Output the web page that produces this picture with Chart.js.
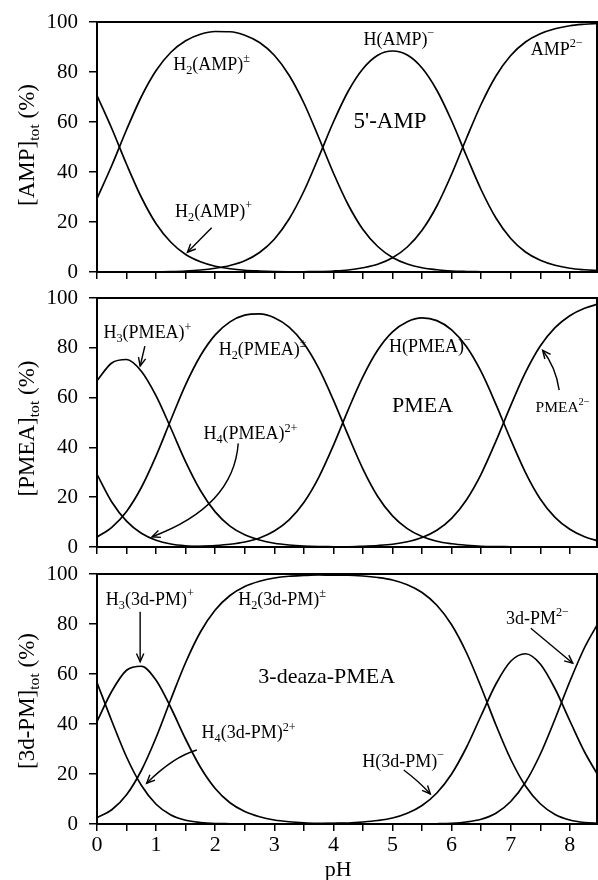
<!DOCTYPE html>
<html>
<head>
<meta charset="utf-8">
<title>Species distribution vs pH</title>
<script src="https://cdn.jsdelivr.net/npm/chart.js@4/dist/chart.umd.min.js"></script>
<style>
  html, body { margin: 0; padding: 0; background: #fff; }
  #wrap { position: relative; width: 598px; height: 880px; overflow: hidden; }
  #wrap canvas { position: absolute; left: 0; }
</style>
</head>
<body>
<div id="wrap">
  <canvas id="amp" width="598" height="290" style="top:0"></canvas>
  <canvas id="pmea" width="598" height="285" style="top:280px"></canvas>
  <canvas id="dpm" width="598" height="320" style="top:560px"></canvas>
</div>
<script>
// pH grid shared by all panels
const pH = [0, 0.25, 0.5, 0.75, 1, 1.25, 1.5, 1.75, 2, 2.25, 2.5, 2.75, 3, 3.25, 3.5, 3.75, 4, 4.25,
  4.5, 4.75, 5, 5.25, 5.5, 5.75, 6, 6.25, 6.5, 6.75, 7, 7.25, 7.5, 7.75, 8, 8.25, 8.5];

// Ticks
const phTicks = [0, 0.5, 1, 1.5, 2, 2.5, 3, 3.5, 4, 4.5, 5, 5.5, 6, 6.5, 7, 7.5, 8];
const phLabels = [0, 1, 2, 3, 4, 5, 6, 7, 8];
const pctTicks = [0, 10, 20, 30, 40, 50, 60, 70, 80, 90, 100];
const pctLabels = [0, 20, 40, 60, 80, 100];

// 5'-AMP (%)
const ampH3 = [70.6, 57.4, 43.1, 29.9, 19.3, 11.9, 7.0, 4.1, 2.3, 1.3, 0.7, 0.4, 0.2, 0.1, 0.05,
  0, 0, 0, 0, 0, 0, 0, 0, 0, 0, 0, 0, 0, 0, 0, 0, 0, 0, 0, 0];
const ampH2 = [29.4, 42.6, 56.9, 70.1, 80.6, 87.9, 92.5, 95.1, 96.2, 96.1, 94.7, 91.8, 86.7, 78.7,
  67.6, 53.9, 39.6, 26.9, 17.0, 10.2, 5.8, 3.2, 1.7, 0.9, 0.4, 0.2, 0.1, 0, 0, 0, 0, 0, 0, 0, 0];
const ampH = [0, 0, 0, 0.1, 0.1, 0.2, 0.4, 0.8, 1.5, 2.6, 4.5, 7.8, 13.1, 21.2, 32.3, 45.9, 60.0,
  72.3, 81.3, 86.7, 88.4, 86.8, 81.6, 72.7, 60.5, 46.5, 32.9, 21.6, 13.4, 8.0, 4.7, 2.7, 1.5, 0.9, 0.5];
const ampL = [0, 0, 0, 0, 0, 0, 0, 0, 0, 0, 0, 0, 0, 0, 0.1, 0.2, 0.4, 0.8, 1.7, 3.1, 5.7, 10.0,
  16.7, 26.4, 39.1, 53.4, 67.1, 78.4, 86.6, 92.0, 95.3, 97.3, 98.5, 99.1, 99.5];

// PMEA (%)
const pmeaH4 = [29.2, 18.1, 10.4, 5.5, 2.7, 1.2, 0.5, 0.2, 0.1, 0, 0, 0, 0, 0, 0, 0, 0, 0, 0, 0,
  0, 0, 0, 0, 0, 0, 0, 0, 0, 0, 0, 0, 0, 0, 0];
const pmeaH3 = [66.8, 73.9, 75.3, 70.6, 60.7, 47.7, 34.2, 22.7, 14.1, 8.4, 4.9, 2.8, 1.5, 0.8, 0.4,
  0.2, 0.1, 0, 0, 0, 0, 0, 0, 0, 0, 0, 0, 0, 0, 0, 0, 0, 0, 0, 0];
const pmeaH2 = [4.0, 7.9, 14.3, 23.9, 36.6, 51.1, 65.2, 76.8, 85.2, 90.4, 93.1, 93.6, 92.1, 88.3,
  81.7, 71.8, 59.0, 44.8, 31.3, 20.3, 12.5, 7.4, 4.2, 2.3, 1.3, 0.7, 0.3, 0.15, 0.1, 0, 0, 0, 0, 0, 0];
const pmeaH = [0, 0, 0, 0, 0, 0, 0.1, 0.3, 0.6, 1.1, 2.0, 3.6, 6.4, 10.9, 17.9, 27.9, 40.8, 55.1,
  68.4, 79.1, 86.4, 90.5, 92.0, 90.9, 87.2, 80.5, 70.4, 57.3, 43.1, 29.9, 19.3, 11.9, 7.1, 4.1, 2.3];
const pmeaL = [0, 0, 0, 0, 0, 0, 0, 0, 0, 0, 0, 0, 0, 0, 0, 0, 0.1, 0.1, 0.3, 0.6, 1.1, 2.1, 3.8,
  6.7, 11.5, 18.9, 29.3, 42.5, 56.8, 70.1, 80.7, 88.1, 92.9, 95.9, 97.7];

// 3-deaza-PMEA (%)
const dpmH4 = [56.6, 41.2, 26.8, 15.5, 7.9, 3.6, 1.5, 0.6, 0.2, 0.1, 0, 0, 0, 0, 0, 0, 0, 0, 0, 0,
  0, 0, 0, 0, 0, 0, 0, 0, 0, 0, 0, 0, 0, 0, 0];
const dpmH3 = [41.0, 53.1, 61.5, 63.1, 57.5, 46.5, 33.9, 22.7, 14.2, 8.5, 5.0, 2.9, 1.6, 0.9, 0.5,
  0.3, 0.2, 0.1, 0, 0, 0, 0, 0, 0, 0, 0, 0, 0, 0, 0, 0, 0, 0, 0, 0];
const dpmH2 = [2.5, 5.7, 11.7, 21.4, 34.6, 49.9, 64.6, 76.8, 85.6, 91.4, 95.0, 97.1, 98.4, 99.1,
  99.4, 99.6, 99.5, 99.5, 99.2, 98.6, 97.6, 95.7, 92.6, 87.5, 79.7, 68.6, 54.7, 39.6, 25.9, 15.2,
  8.1, 3.8, 1.6, 0.6, 0.2];
const dpmH = [0, 0, 0, 0, 0, 0, 0, 0, 0, 0, 0, 0, 0, 0, 0.1, 0.1, 0.3, 0.4, 0.8, 1.4, 2.4, 4.3, 7.4,
  12.4, 20.0, 30.6, 43.4, 56.0, 65.1, 68.1, 64.0, 54.1, 41.3, 28.8, 18.6];
const dpmL = [0, 0, 0, 0, 0, 0, 0, 0, 0, 0, 0, 0, 0, 0, 0, 0, 0, 0, 0, 0, 0, 0, 0, 0.1, 0.3, 0.8,
  1.9, 4.3, 9.0, 16.7, 27.9, 42.0, 57.0, 70.6, 81.2];

const FONT = '"Liberation Serif", "Times New Roman", serif';

// 'H_{2}(AMP)^{±}' -> text pieces with sub/sup
function parseRich(str) {
  const out = [];
  str.split(/(_\{[^}]*\}|\^\{[^}]*\})/).forEach(s => {
    if (!s) return;
    if (s[0] === '_') out.push({ t: s.slice(2, -1), k: 'sub' });
    else if (s[0] === '^') out.push({ t: s.slice(2, -1), k: 'sup' });
    else out.push({ t: s, k: '' });
  });
  return out;
}

function drawRich(ctx, str, x, y, size, measureOnly) {
  let cx = x;
  parseRich(str).forEach(seg => {
    const s = seg.k ? size * 0.68 : size;
    const dy = seg.k === 'sub' ? size * 0.22 : seg.k === 'sup' ? -size * 0.42 : 0;
    ctx.font = `${s}px ${FONT}`;
    if (!measureOnly) ctx.fillText(seg.t, cx, y + dy);
    cx += ctx.measureText(seg.t).width;
  });
  return cx - x;
}

function drawArrow(ctx, p0, p1, c) {
  ctx.beginPath();
  ctx.moveTo(p0.x, p0.y);
  if (c) ctx.quadraticCurveTo(c.x, c.y, p1.x, p1.y);
  else ctx.lineTo(p1.x, p1.y);
  ctx.stroke();
  const from = c || p0;
  const ang = Math.atan2(p1.y - from.y, p1.x - from.x);
  const len = 9, spread = 0.42;
  ctx.beginPath();
  ctx.moveTo(p1.x - len * Math.cos(ang - spread), p1.y - len * Math.sin(ang - spread));
  ctx.lineTo(p1.x, p1.y);
  ctx.lineTo(p1.x - len * Math.cos(ang + spread), p1.y - len * Math.sin(ang + spread));
  ctx.stroke();
}

// Frame, species labels, arrows and axis titles
const notesPlugin = {
  id: 'notes',
  afterDraw(chart, args, opts) {
    const { ctx, chartArea: a, scales: { x, y } } = chart;
    const pt = p => ({ x: x.getPixelForValue(p[0]), y: y.getPixelForValue(p[1]) });
    ctx.save();
    ctx.strokeStyle = '#000';
    ctx.fillStyle = '#000';
    ctx.lineWidth = 2;
    ctx.strokeRect(a.left, a.top, a.right - a.left, a.bottom - a.top);

    ctx.textBaseline = 'alphabetic';
    (opts.labels || []).forEach(l => {
      drawRich(ctx, l.text, x.getPixelForValue(l.x), y.getPixelForValue(l.y), l.size || 18);
    });

    ctx.lineWidth = 1.4;
    (opts.arrows || []).forEach(ar => {
      drawArrow(ctx, pt(ar.from), pt(ar.to), ar.via ? pt(ar.via) : null);
    });

    if (opts.title) {
      ctx.save();
      ctx.translate(34, (a.top + a.bottom) / 2 + (opts.titleShift || 0));
      ctx.rotate(-Math.PI / 2);
      const w = drawRich(ctx, opts.title, 0, 0, 23, true);
      drawRich(ctx, opts.title, -w / 2, 0, 23);
      ctx.restore();
    }
    if (opts.xTitle) {
      ctx.font = `22px ${FONT}`;
      ctx.textAlign = 'center';
      ctx.textBaseline = 'middle';
      ctx.fillText(opts.xTitle.text, x.getPixelForValue(opts.xTitle.at), opts.xTitle.y);
    }
    ctx.restore();
  }
};

function makePanel(id, series, cfg) {
  return new Chart(document.getElementById(id), {
    type: 'line',
    data: {
      datasets: series.map(s => ({
        data: pH.map((v, i) => ({ x: v, y: s[i] })),
        borderColor: '#000',
        borderWidth: 1.7,
        pointRadius: 0,
        cubicInterpolationMode: 'monotone',
        fill: false
      }))
    },
    options: {
      responsive: false,
      animation: false,
      events: [],
      layout: { padding: { top: cfg.top, right: 1, left: 0, bottom: 0 } },
      plugins: {
        legend: { display: false },
        tooltip: { enabled: false },
        notes: cfg.notes
      },
      scales: {
        x: {
          type: 'linear',
          min: 0,
          max: 8.46,
          afterBuildTicks: s => { s.ticks = phTicks.map(v => ({ value: v })); },
          afterFit: s => {
            // fixed box so the plot areas line up
            s.height = cfg.xHeight;
            s.paddingLeft = 0;
            s.paddingRight = 0;
          },
          grid: { drawOnChartArea: false, drawTicks: true, tickLength: 7, color: '#000', lineWidth: 1.5 },
          border: { display: true, color: '#000', width: 2 },
          ticks: {
            display: cfg.xLabels,
            padding: 1,
            color: '#000',
            maxRotation: 0,
            autoSkip: false,
            font: { family: FONT, size: 22 },
            callback: v => phLabels.includes(v) ? v : ''
          }
        },
        y: {
          min: 0,
          max: 100,
          afterBuildTicks: s => { s.ticks = pctTicks.map(v => ({ value: v })); },
          afterFit: s => {
            s.width = 97;
            s.paddingTop = 0;
            s.paddingBottom = 0;
          },
          grid: { drawOnChartArea: false, drawTicks: true, tickLength: 8, color: '#000', lineWidth: 1.5 },
          border: { display: true, color: '#000', width: 2 },
          ticks: {
            padding: 11,
            color: '#000',
            font: { family: FONT, size: 21 },
            callback: v => pctLabels.includes(v) ? v : ''
          }
        }
      }
    },
    plugins: [notesPlugin]
  });
}

makePanel('amp', [ampH3, ampH2, ampH, ampL], {
  top: 22, xHeight: 18, xLabels: false,
  notes: {
    title: '[AMP]_{tot} (%)', titleShift: -2,
    labels: [
      { text: 'H_{2}(AMP)^{±}', x: 1.29, y: 80.8 },
      { text: 'H(AMP)^{−}', x: 4.51, y: 90.8 },
      { text: 'AMP^{2−}', x: 7.34, y: 86.8 },
      { text: "5'-AMP", x: 4.34, y: 57.6, size: 23 },
      { text: 'H_{2}(AMP)^{+}', x: 1.32, y: 22.1 }
    ],
    arrows: [{ from: [1.94, 17.7], to: [1.53, 7.9] }]
  }
});

makePanel('pmea', [pmeaH4, pmeaH3, pmeaH2, pmeaH, pmeaL], {
  top: 18, xHeight: 18, xLabels: false,
  notes: {
    title: '[PMEA]_{tot} (%)', titleShift: 6,
    labels: [
      { text: 'H_{3}(PMEA)^{+}', x: 0.11, y: 83.8 },
      { text: 'H_{2}(PMEA)^{±}', x: 2.06, y: 77.1 },
      { text: 'H_{4}(PMEA)^{2+}', x: 1.8, y: 43.3 },
      { text: 'H(PMEA)^{−}', x: 4.94, y: 78.4 },
      { text: 'PMEA', x: 4.99, y: 54.3, size: 22 },
      { text: 'PMEA^{2−}', x: 7.42, y: 54.3, size: 15.5 }
    ],
    arrows: [
      { from: [0.81, 80.7], to: [0.73, 72.7] },
      { from: [2.39, 41.6], via: [2.31, 16.2], to: [0.93, 4.1] },
      { from: [7.82, 63], via: [7.76, 72.4], to: [7.54, 79] }
    ]
  }
});

makePanel('dpm', [dpmH4, dpmH3, dpmH2, dpmH, dpmL], {
  top: 14, xHeight: 56, xLabels: true,
  notes: {
    title: '[3d-PM]_{tot} (%)', titleShift: 2,
    xTitle: { text: 'pH', at: 4.08, y: 310 },
    labels: [
      { text: 'H_{3}(3d-PM)^{+}', x: 0.15, y: 87.6 },
      { text: 'H_{2}(3d-PM)^{±}', x: 2.39, y: 87.6 },
      { text: '3-deaza-PMEA', x: 2.73, y: 56.3, size: 22 },
      { text: 'H_{4}(3d-PM)^{2+}', x: 1.77, y: 34.3 },
      { text: 'H(3d-PM)^{−}', x: 4.49, y: 22.9 },
      { text: '3d-PM^{2−}', x: 6.92, y: 80 }
    ],
    arrows: [
      { from: [0.73, 84.9], to: [0.73, 64.9] },
      { from: [1.69, 29.6], via: [1.29, 26.9], to: [0.84, 16.3] },
      { from: [5.19, 21.6], via: [5.45, 17], to: [5.64, 12] },
      { from: [7.34, 78.3], to: [8.05, 64.3] }
    ]
  }
});
</script>
</body>
</html>
